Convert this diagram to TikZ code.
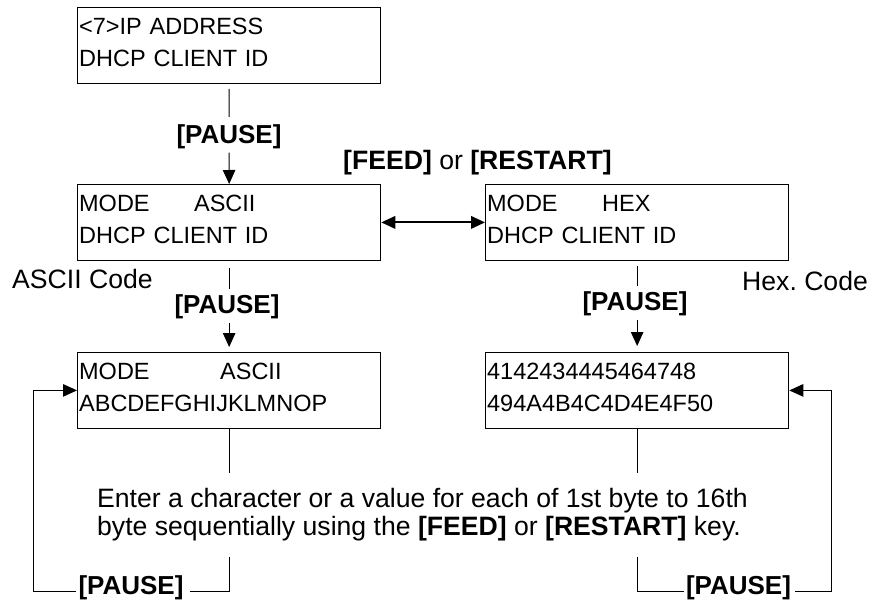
\documentclass[tikz,border=0pt]{standalone}
\usepackage{fontspec}
\setmainfont{Liberation Sans}
\usetikzlibrary{arrows.meta}

\newcommand{\lcdfont}{\fontsize{23.5}{32}\selectfont}
\newcommand{\keyfont}{\fontsize{26}{29}\selectfont\bfseries}
\newcommand{\txtfont}{\fontsize{26.6}{28.5}\selectfont\frenchspacing}

\tikzset{
	lcd/.style={draw, line width=1.3pt, anchor=north west, align=left, text width=300pt,
		inner xsep=1.5pt, minimum height=75.5pt, text height=11pt, text depth=32pt, font=\lcdfont},
	key/.style={font=\keyfont, inner sep=0pt, anchor=base},
	wire/.style={line width=1pt},
}

\begin{document}
\begin{tikzpicture}[x=1pt, y=-1pt, >={Triangle[length=14pt,width=12.5pt]}]
	\useasboundingbox (0,0) rectangle (885,600);

	% display boxes
	\node[lcd] (ipaddr) at (77,7) {<7>IP ADDRESS\\DHCP CLIENT ID};
	\node[lcd] (ascii) at (77,184) {MODE\hspace{44.5pt}ASCII\\DHCP CLIENT ID};
	\node[lcd] (hex) at (485,184) {MODE\hspace{44.5pt}HEX\\DHCP CLIENT ID};
	\node[lcd] (asciiedit) at (77,352) {MODE\hspace{70.5pt}ASCII\\ABCDEFGHIJKLMNOP};
	\node[lcd] (hexedit) at (485,352) {4142434445464748\\494A4B4C4D4E4F50};

	% keys and texts
	\node[key] (pause1) at (229,143) {[PAUSE]};
	\node[key] (pause2) at (227,313) {[PAUSE]};
	\node[key] (pause3) at (635,310) {[PAUSE]};
	\node[key] (pauseL) at (131,594) {[PAUSE]};
	\node[key] (pauseR) at (738.5,594) {[PAUSE]};
	\node[anchor=base west, inner sep=0pt, font=\txtfont] (feedkey) at (343,169) {\textbf{[FEED]} or \textbf{[RESTART]}};
	\node[anchor=base west, inner sep=0pt, font=\txtfont] (asciicode) at (12,288) {ASCII Code};
	\node[anchor=base west, inner sep=0pt, font=\txtfont] (hexcode) at (742,290) {Hex. Code};
	\node[anchor=north west, align=left, inner xsep=0pt, inner ysep=15pt, font=\txtfont] (note) at (97,473)
		{Enter a character or a value for each of 1st byte to 16th\\
		byte sequentially using the \textbf{[FEED]} or \textbf{[RESTART]} key.};

	\coordinate (loopL) at (33,591);
	\coordinate (loopR) at (831,591);

	% connectors
	\draw[wire] ([yshift=-5pt]ipaddr.south) -- ([yshift=7pt]pause1.north);
	\draw[wire,->] ([yshift=-4pt]pause1.south) -- (ascii.north);
	\draw[line width=2pt,<->] (ascii.east) -- (hex.west);

	\draw[wire] ([yshift=-7pt]ascii.south) -- ([yshift=5pt]ascii.south |- pause2.north);
	\draw[wire,->,shorten >=5pt] ([yshift=-4pt]ascii.south |- pause2.south) -- (asciiedit.north);
	\draw[wire] ([yshift=-5pt]hex.south) -- ([yshift=5pt]hex.south |- pause3.north);
	\draw[wire,->,shorten >=6pt] ([yshift=-4pt]hex.south |- pause3.south) -- (hexedit.north);

	\draw[wire] (asciiedit.south) -- (asciiedit.south |- note.north);
	\draw[wire] (asciiedit.south |- note.south) -- ([yshift=3pt]asciiedit.south |- pauseL.base)
		-- ([xshift=6pt,yshift=3pt]pauseL.base east);
	\draw[wire,->] ([xshift=-2pt,yshift=3pt]pauseL.base west) -- (loopL) |- (asciiedit.west);

	\draw[wire] (hexedit.south) -- (hexedit.south |- note.north);
	\draw[wire] (hexedit.south |- note.south) -- ([yshift=3pt]hexedit.south |- pauseR.base)
		-- ([xshift=-2pt,yshift=3pt]pauseR.base west);
	\draw[wire,->] ([xshift=4pt,yshift=3pt]pauseR.base east) -- (loopR) |- (hexedit.east);
\end{tikzpicture}
\end{document}
